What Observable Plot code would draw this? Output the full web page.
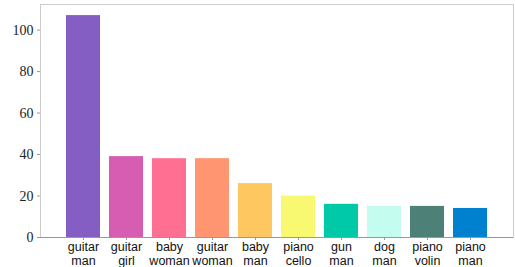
<!DOCTYPE html>
<html>
<head>
<meta charset="utf-8">
<script src="https://cdn.jsdelivr.net/npm/d3@7"></script>
<script src="https://cdn.jsdelivr.net/npm/@observablehq/plot@0.6"></script>
<style>
  html, body { margin: 0; padding: 0; background: #fff; }
</style>
</head>
<body>
<div id="chart"></div>
<script>
const categories = ["guitar man", "guitar girl", "baby woman", "guitar woman", "baby man", "piano cello", "gun man", "dog man", "piano volin", "piano man"];
const counts = [107, 39, 38, 38, 26, 20, 16, 15, 15, 14];
const colors = ["#845EC2", "#D65DB1", "#FF6F91", "#FF9671", "#FFC75F", "#F9F871", "#00C9A7", "#C4FCEF", "#4D8076", "#0081CF"];
const yTicks = [0, 20, 40, 60, 80, 100];

const data = categories.map((c, i) => ({category: c, count: counts[i], color: colors[i]}));

const chart = Plot.plot({
  width: 515,
  height: 267,
  marginLeft: 40,
  marginRight: 2,
  marginTop: 4,
  marginBottom: 30,
  style: {background: "#fff", overflow: "visible"},
  x: {domain: categories, paddingInner: 0.2, paddingOuter: 0.49, align: 0.5, axis: null, label: null},
  y: {domain: [0, 107 * 1.05], axis: null, label: null},
  color: {type: "identity"},
  marks: [
    Plot.barY(data, {x: "category", y: "count", fill: "color"}),
    Plot.frame({stroke: "#cccccc", strokeWidth: 1}),
    Plot.ruleX([0], {frameAnchor: "right", stroke: "#999"}),
    Plot.axisY(yTicks, {
      ticks: yTicks,
      label: null,
      tickSize: 3,
      tickPadding: 4,
      stroke: "#999",
      fill: "#222",
      fontSize: 14,
      fontFamily: "Liberation Serif"
    }),
    Plot.axisX({
      label: null,
      tickSize: 3,
      tickPadding: 0,
      stroke: "#999",
      fontSize: 12.5,
      fontFamily: "Liberation Sans",
      lineHeight: 1.14,
      lineAnchor: "top",
      fill: "#111",
      tickFormat: d => d.replace(" ", "\n")
    }),
    Plot.ruleY([0], {stroke: "#999"})
  ]
});
d3.select(chart).selectAll('g[aria-label="y-axis tick label"]')
  .attr("font-family", "Liberation Serif, Times New Roman, serif").attr("font-size", 14);
d3.select(chart).selectAll('g[aria-label="x-axis tick label"]')
  .attr("font-family", "Liberation Sans, Arial, sans-serif").attr("font-size", 12.5);
document.getElementById("chart").appendChild(chart);
</script>
</body>
</html>
